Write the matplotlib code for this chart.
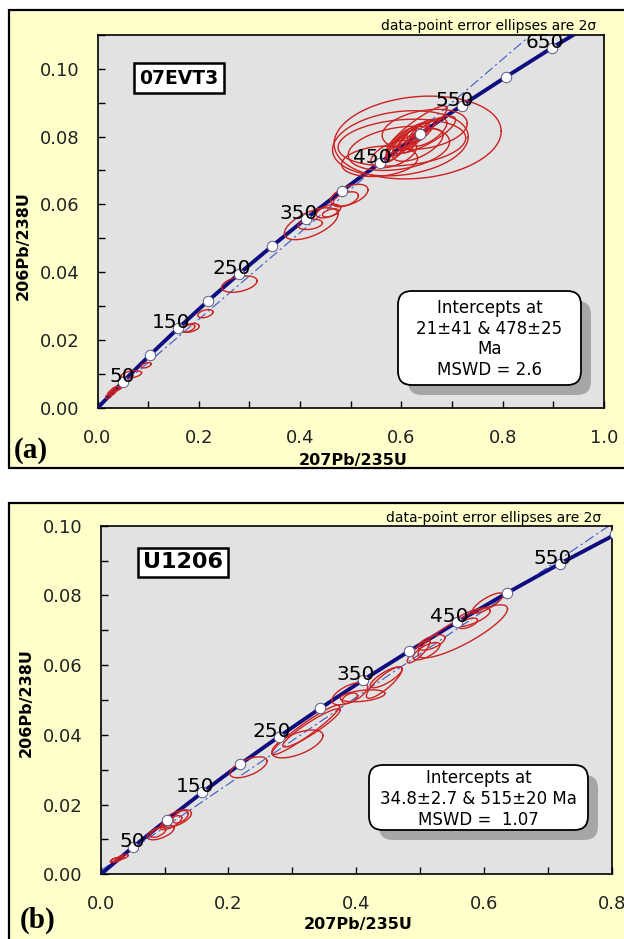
import numpy as np
import matplotlib
matplotlib.use("Agg")
import matplotlib.pyplot as plt
from matplotlib.patches import Rectangle, FancyBboxPatch
from matplotlib.ticker import MultipleLocator, FormatStrFormatter

W, H = 624, 939

# concordia points: age (Ma), 207Pb/235U, 206Pb/238U
ages = [0, 50, 100, 150, 200, 250, 300, 350, 400, 450, 500, 550, 600, 650, 700]
conc_x = [0.0, 0.0505, 0.1035, 0.1592, 0.2177, 0.2792, 0.3437, 0.4115, 0.4828, 0.5576, 0.6362, 0.7189, 0.8058, 0.8969, 0.9926]
conc_y = [0.0, 0.0078, 0.0156, 0.0235, 0.0315, 0.0395, 0.0476, 0.0558, 0.0640, 0.0723, 0.0807, 0.0891, 0.0975, 0.1061, 0.1147]

# panel (a) 07EVT3
a_label_ages = [50, 150, 250, 350, 450, 550, 650]
a_lower = (0.0211, 0.0033)
a_upper = (0.598, 0.0770)
a_cx = [0.632, 0.598, 0.601, 0.557, 0.646, 0.595, 0.645, 0.610, 0.625, 0.600, 0.640, 0.590, 0.630, 0.655,
        0.615, 0.622, 0.605, 0.585, 0.632,
        0.497, 0.490, 0.456, 0.460, 0.422, 0.420, 0.280, 0.213, 0.183, 0.180, 0.096, 0.067,
        0.035, 0.028, 0.022, 0.040, 0.030]
a_cy = [0.0797, 0.0780, 0.0782, 0.0727, 0.0821, 0.0765, 0.0805, 0.0790, 0.0800, 0.0775, 0.0815, 0.0765, 0.0820, 0.0812,
        0.0795, 0.0785, 0.0798, 0.0748, 0.0775,
        0.0627, 0.0615, 0.0580, 0.0575, 0.0543, 0.0541, 0.0365, 0.0278, 0.0236, 0.0235, 0.0126, 0.0099,
        0.0055, 0.0045, 0.0035, 0.0058, 0.0050]
a_sx = [0.165, 0.134, 0.126, 0.075, 0.084, 0.100, 0.062, 0.040, 0.030, 0.028, 0.025, 0.022, 0.060, 0.035,
        0.020, 0.018, 0.024, 0.045, 0.050,
        0.037, 0.025, 0.024, 0.016, 0.053, 0.024, 0.035, 0.015, 0.018, 0.012, 0.010, 0.020,
        0.008, 0.008, 0.006, 0.007, 0.006]
a_sy = [0.0122, 0.0096, 0.0069, 0.0045, 0.0059, 0.0065, 0.0055, 0.0050, 0.0042, 0.0045, 0.0035, 0.0040, 0.0070, 0.0040,
        0.0030, 0.0033, 0.0028, 0.0040, 0.0048,
        0.0032, 0.0022, 0.0020, 0.0012, 0.0047, 0.0015, 0.0024, 0.0012, 0.0013, 0.0011, 0.0008, 0.0011,
        0.0008, 0.0008, 0.0007, 0.0006, 0.0006]
a_rho = [0.15, 0.2, 0.2, 0.2, 0.3, 0.3, 0.8, 0.85, 0.8, 0.85, 0.75, 0.8, 0.9, 0.7,
         0.8, 0.85, 0.8, 0.5, 0.6,
         0.5, 0.5, 0.5, 0.5, 0.6, 0.3, 0.4, 0.4, 0.4, 0.5, 0.5, 0.4,
         0.5, 0.5, 0.5, 0.4, 0.5]

# panel (b) U1206
b_label_ages = [50, 150, 250, 350, 450, 550]
b_lower = (0.0349, 0.0054)
b_upper = (0.661, 0.0832)
b_cx = [0.567, 0.518, 0.510, 0.581, 0.606, 0.575, 0.498,
        0.444, 0.390, 0.410, 0.390, 0.447, 0.321, 0.330, 0.308, 0.2315,
        0.094, 0.119, 0.110, 0.090, 0.125,
        0.025, 0.035, 0.030, 0.020]
b_cy = [0.0697, 0.0665, 0.0640, 0.0737, 0.0778, 0.0720, 0.0639,
        0.0550, 0.0518, 0.0512, 0.0505, 0.0565, 0.0414, 0.0420, 0.0374, 0.0307,
        0.0120, 0.0160, 0.0148, 0.0120, 0.0165,
        0.0042, 0.0050, 0.0046, 0.0040]
b_sx = [0.070, 0.021, 0.021, 0.029, 0.024, 0.015, 0.018,
        0.028, 0.028, 0.035, 0.012, 0.025, 0.053, 0.045, 0.040, 0.029,
        0.021, 0.023, 0.017, 0.012, 0.012,
        0.008, 0.008, 0.006, 0.005]
b_sy = [0.0076, 0.0022, 0.0025, 0.0027, 0.0029, 0.0015, 0.0033,
        0.0045, 0.0032, 0.0017, 0.0015, 0.0030, 0.0071, 0.0055, 0.0040, 0.0030,
        0.0021, 0.0025, 0.0020, 0.0014, 0.0018,
        0.0007, 0.0007, 0.0006, 0.0006]
b_rho = [0.85, 0.6, 0.7, 0.7, 0.8, 0.6, 0.85,
         0.85, 0.6, 0.4, 0.5, 0.8, 0.95, 0.93, 0.6, 0.6,
         0.6, 0.6, 0.7, 0.6, 0.5,
         0.6, 0.6, 0.6, 0.6]


def ellipse_xy(cx, cy, sx, sy, rho, n=120):
    t = np.linspace(0, 2 * np.pi, n)
    x = cx + sx * np.cos(t)
    y = cy + sy * (rho * np.cos(t) + np.sqrt(1 - rho ** 2) * np.sin(t))
    return x, y


def fx(px):
    return px / W


def fy(py):
    return 1 - py / H


fig = plt.figure(figsize=(W / 100, H / 100), dpi=100)
fig.patch.set_facecolor("white")

# yellow panel frames
fig.patches.append(Rectangle((fx(9), fy(468)), 1.2, (468 - 10) / H, transform=fig.transFigure,
                             fc="#FFFFCC", ec="black", lw=1.6, zorder=-2))
fig.patches.append(Rectangle((fx(9), -0.2), 1.2, fy(503) + 0.2, transform=fig.transFigure,
                             fc="#FFFFCC", ec="black", lw=1.6, zorder=-2))


def draw_panel(ax, xmax, ymax, label_ages, lower, upper, cx, cy, sx, sy, rho):
    ax.set_zorder(1)
    ax.set_facecolor("#E2E2E2")
    ax.set_xlim(0, xmax)
    ax.set_ylim(0, ymax)
    ax.axline(lower, upper, color="#3a5ac8", lw=0.8, ls=(0, (9, 3, 2, 3)), zorder=2)
    ax.plot(conc_x, conc_y, color="#0d0d80", lw=2.8, zorder=3, solid_capstyle="butt")
    for i in range(len(cx)):
        ex, ey = ellipse_xy(cx[i], cy[i], sx[i], sy[i], rho[i])
        ax.plot(ex, ey, color="#cc2222", lw=1.0, zorder=4)
    ax.plot(conc_x[1:], conc_y[1:], ls="none", marker="o", ms=7.5, mfc="white", mec="#5a5a8a",
            mew=0.7, zorder=5)
    for age in label_ages:
        i = ages.index(age)
        ax.annotate(str(age), (conc_x[i], conc_y[i]), xytext=(8.5, 0), textcoords="offset points",
                    ha="right", va="baseline", fontsize=14.5, color="black", zorder=6)
    ax.xaxis.set_major_locator(MultipleLocator(0.2))
    ax.xaxis.set_minor_locator(MultipleLocator(0.1))
    ax.yaxis.set_major_locator(MultipleLocator(0.02))
    ax.yaxis.set_minor_locator(MultipleLocator(0.01))
    ax.xaxis.set_major_formatter(FormatStrFormatter("%.1f"))
    ax.yaxis.set_major_formatter(FormatStrFormatter("%.2f"))
    ax.tick_params(which="both", direction="in", length=5, width=1.0, top=False, right=False)
    ax.tick_params(axis="x", labelsize=13, pad=15, labelcolor="#222222")
    ax.tick_params(axis="y", labelsize=13, pad=13, labelcolor="#222222")
    for s in ax.spines.values():
        s.set_linewidth(1.2)
        s.set_color("black")


ax_a = fig.add_axes([fx(97.5), fy(408), (604 - 97.5) / W, (408 - 34.7) / H])
draw_panel(ax_a, 1.0, 0.110, a_label_ages, a_lower, a_upper, a_cx, a_cy, a_sx, a_sy, a_rho)

ax_b = fig.add_axes([fx(100.7), fy(874.3), (611.6 - 100.7) / W, (874.3 - 525.7) / H])
draw_panel(ax_b, 0.8, 0.100, b_label_ages, b_lower, b_upper, b_cx, b_cy, b_sx, b_sy, b_rho)


def intercept_box(x0, y0, x1, y1, text, tx, ty):
    asp = W / H
    shadow = FancyBboxPatch((fx(x0 + 10), fy(y1 + 10)), (x1 - x0) / W, (y1 - y0) / H,
                            boxstyle="round,pad=0,rounding_size=0.022", mutation_aspect=asp,
                            transform=fig.transFigure, fc="#a6a6a6", ec="none", zorder=7)
    box = FancyBboxPatch((fx(x0), fy(y1)), (x1 - x0) / W, (y1 - y0) / H,
                         boxstyle="round,pad=0,rounding_size=0.022", mutation_aspect=asp,
                         transform=fig.transFigure, fc="white", ec="black", lw=1.3, zorder=8)
    fig.patches.extend([shadow, box])
    fig.text(fx(tx), fy(ty), text, ha="center", va="center", fontsize=12, zorder=9,
             linespacing=1.2)


intercept_box(398, 291, 581, 385, "Intercepts at\n21±41 & 478±25\nMa\nMSWD = 2.6", 489.5, 339)
intercept_box(369, 765, 588, 830, "Intercepts at\n34.8±2.7 & 515±20 Ma\nMSWD =  1.07", 478.5, 799)

# sample names
fig.text(fx(179), fy(78), "07EVT3", ha="center", va="center", fontsize=13.5, fontweight="bold",
         bbox=dict(boxstyle="square,pad=0.3", fc="white", ec="black", lw=1.8), zorder=9)
fig.text(fx(183), fy(562.5), "U1206", ha="center", va="center", fontsize=16, fontweight="bold",
         bbox=dict(boxstyle="square,pad=0.22", fc="white", ec="black", lw=1.8), zorder=9)

# header notes
fig.text(fx(596), fy(26), "data-point error ellipses are 2σ", ha="right", va="center", fontsize=10)
fig.text(fx(601), fy(518), "data-point error ellipses are 2σ", ha="right", va="center", fontsize=10)

# axis titles
fig.text(fx(353), fy(461), "207Pb/235U", ha="center", va="center", fontsize=11.5, fontweight="bold")
fig.text(fx(23), fy(246), "206Pb/238U", ha="center", va="center", fontsize=11.5, fontweight="bold",
         rotation=90)
fig.text(fx(358), fy(925), "207Pb/235U", ha="center", va="center", fontsize=11.5, fontweight="bold")
fig.text(fx(26), fy(703), "206Pb/238U", ha="center", va="center", fontsize=11.5, fontweight="bold",
         rotation=90)

# panel letters
fig.text(fx(31), fy(450), "(a)", ha="center", va="center", fontsize=21, fontweight="bold",
         family="Liberation Serif")
fig.text(fx(38), fy(920), "(b)", ha="center", va="center", fontsize=21, fontweight="bold",
         family="Liberation Serif")

fig.savefig("out.png", dpi=100)
